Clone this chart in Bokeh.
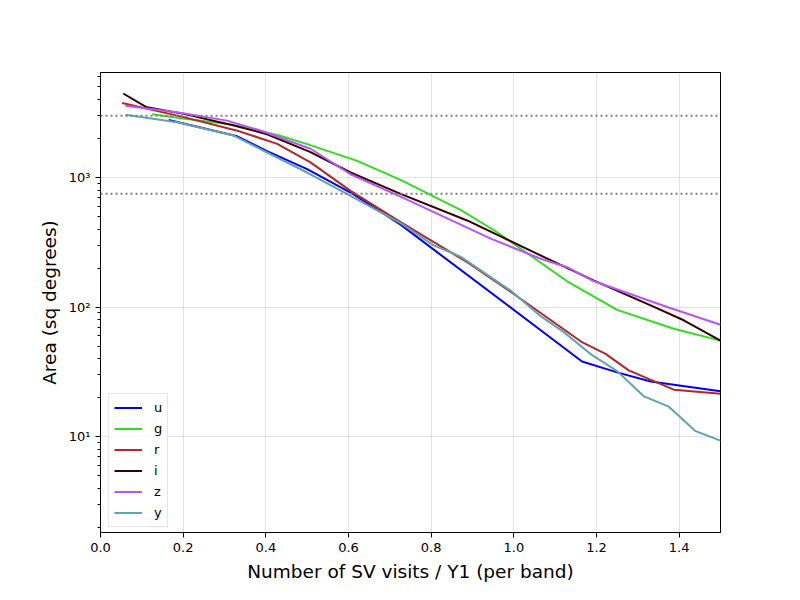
from bokeh.plotting import figure
from bokeh.models import Range1d, Span, FixedTicker, Legend
from bokeh.embed import file_html
from bokeh.resources import INLINE

bands = ["u", "g", "r", "i", "z", "y"]
colors = {"u": "#0000ff", "g": "#31de1f", "r": "#b52626", "i": "#370000", "z": "#ba52ff", "y": "#61a2b3"}

u_x = [0.165, 0.242, 0.331, 0.403, 0.5, 0.605, 0.726, 1.165, 1.25, 1.331, 1.5]
u_y = [2780, 2430, 2080, 1600, 1160, 766, 433, 38, 31.3, 26.6, 22.4]

g_x = [0.125, 0.2, 0.322, 0.435, 0.5, 0.621, 0.726, 0.871, 0.96, 1.129, 1.25, 1.387, 1.5]
g_y = [3085, 2850, 2550, 2100, 1810, 1345, 960, 562, 378, 158, 95, 68, 55]

r_x = [0.0525, 0.2016, 0.331, 0.4275, 0.508, 0.605, 0.726, 0.887, 1.0, 1.165, 1.222, 1.278, 1.387, 1.5]
r_y = [3760, 2925, 2300, 1820, 1310, 789, 452, 222, 126, 53.5, 43.5, 32.4, 23, 21.4]

i_x = [0.055, 0.11, 0.2016, 0.3226, 0.403, 0.508, 0.605, 0.726, 0.887, 1.048, 1.194, 1.331, 1.411, 1.5]
i_y = [4455, 3510, 3100, 2520, 2160, 1570, 1093, 748, 466, 265, 160, 103, 79, 55]

z_x = [0.0605, 0.185, 0.306, 0.387, 0.508, 0.605, 0.726, 0.944, 1.065, 1.129, 1.194, 1.371, 1.5]
z_y = [3580, 3190, 2750, 2307, 1667, 1060, 713, 337, 236, 203, 158, 100, 73]

y_x = [0.0605, 0.185, 0.3226, 0.403, 0.5, 0.605, 0.726, 0.806, 0.871, 0.992, 1.065, 1.121, 1.185, 1.25, 1.315, 1.375, 1.44, 1.5]
y_y = [3050, 2673, 2110, 1560, 1093, 723, 444, 299, 245, 134, 85, 64, 43.5, 32, 20.4, 17, 11, 9.3]

thresholds = [3000, 750]
x_ticks = [0.0, 0.2, 0.4, 0.6, 0.8, 1.0, 1.2, 1.4]
x_tick_labels = ["0.0", "0.2", "0.4", "0.6", "0.8", "1.0", "1.2", "1.4"]
y_tick_labels = {10: "10\u00b9", 100: "10\u00b2", 1000: "10\u00b3"}

series = {"u": (u_x, u_y), "g": (g_x, g_y), "r": (r_x, r_y),
          "i": (i_x, i_y), "z": (z_x, z_y), "y": (y_x, y_y)}

FONT = "DejaVu Sans"

p = figure(frame_width=620, frame_height=460, y_axis_type="log",
           x_range=Range1d(0, 1.5), y_range=Range1d(1.815, 6470),
           output_backend="svg", toolbar_location=None,
           min_border_left=100, min_border_right=72, min_border_top=72, min_border_bottom=60)

p.outline_line_color = "black"
p.outline_line_width = 1
p.background_fill_color = "white"
p.border_fill_color = "white"

for ax in (p.xaxis, p.yaxis):
    ax.axis_line_color = "black"
    ax.major_tick_line_color = "black"
    ax.minor_tick_line_color = "black"
    ax.major_tick_in = 0
    ax.major_tick_out = 5
    ax.minor_tick_in = 0
    ax.minor_tick_out = 3
    ax.major_label_text_font = FONT
    ax.major_label_text_font_size = "13px"
    ax.major_label_text_color = "black"
    ax.axis_label_text_font = FONT
    ax.axis_label_text_font_size = "18.5px"
    ax.axis_label_text_font_style = "normal"
    ax.axis_label_text_color = "black"

p.xaxis.ticker = FixedTicker(ticks=x_ticks)
p.xaxis.major_label_overrides = dict(zip(x_ticks, x_tick_labels))
p.xaxis.axis_label = "Number of SV visits / Y1 (per band)"
p.xaxis.axis_label_standoff = 6
p.yaxis.axis_label = "Area (sq degrees)"
p.yaxis.major_label_overrides = y_tick_labels
p.yaxis.axis_label_standoff = 6

p.xgrid.grid_line_color = "#b0b0b0"
p.xgrid.grid_line_alpha = 0.35
p.ygrid.grid_line_color = "#b0b0b0"
p.ygrid.grid_line_alpha = 0.35

for t in thresholds:
    p.add_layout(Span(location=t, dimension="width", line_color="#808080",
                      line_dash="2 3", line_width=2))

items = []
for b in bands:
    xs, ys = series[b]
    r = p.line(xs, ys, line_color=colors[b], line_width=2)
    items.append((b, [r]))

legend = Legend(items=items, location=(8, 5))
legend.label_text_font = FONT
legend.label_text_font_size = "13px"
legend.label_text_color = "black"
legend.glyph_width = 28
legend.glyph_height = 17
legend.label_height = 17
legend.label_width = 8
legend.spacing = 4
legend.padding = 5
legend.margin = 0
legend.label_standoff = 12
legend.border_line_color = "#cccccc"
legend.border_line_width = 1
legend.background_fill_alpha = 0.8
p.add_layout(legend, "center")

open("out.html", "w").write(file_html(p, INLINE))
